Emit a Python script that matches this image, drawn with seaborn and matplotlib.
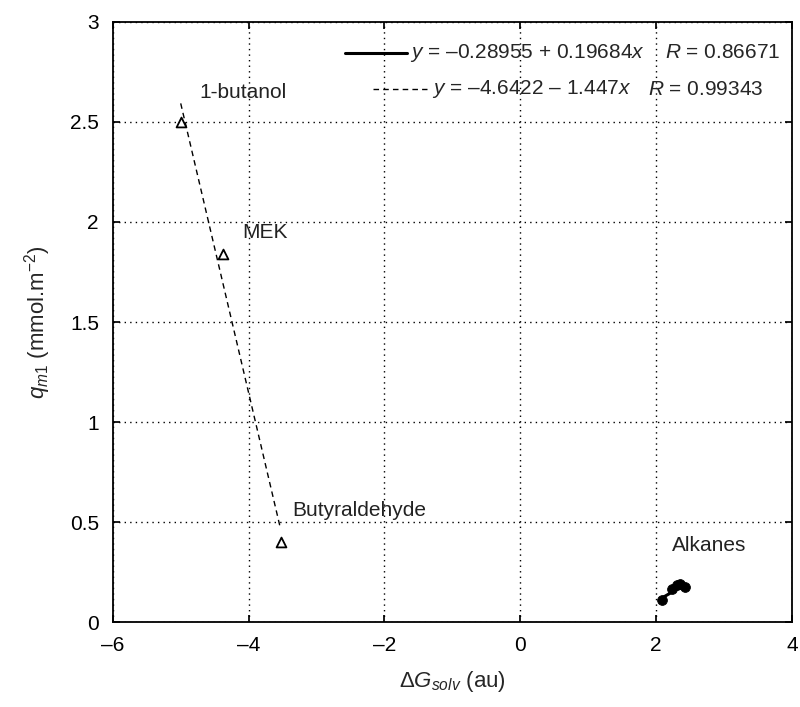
import numpy as np
import pandas as pd
import matplotlib
matplotlib.use("Agg")
import matplotlib.pyplot as plt
import seaborn as sns

# ---- data ----
polar_names = ["1-butanol", "MEK", "Butyraldehyde"]
polar_dg = [-5.0, -4.38, -3.53]
polar_qm = [2.50, 1.84, 0.40]

alkane_dg = [2.08, 2.23, 2.30, 2.35, 2.43]
alkane_qm = [0.11, 0.165, 0.185, 0.19, 0.175]

fit_alk = [-0.28955, 0.19684]   # intercept, slope
fit_pol = [-4.6422, -1.447]
r_alk = 0.86671
r_pol = 0.99343

label_names = ["1-butanol", "MEK", "Butyraldehyde", "Alkanes"]
label_x = [-4.72, -4.10, -3.36, 2.23]
label_y = [2.645, 1.95, 0.56, 0.385]

xticks = [-6, -4, -2, 0, 2, 4]
yticks = [0, 0.5, 1, 1.5, 2, 2.5, 3]

# ---- style ----
sns.set_theme(style="white")
plt.rcParams['font.family'] = ['Liberation Sans', 'DejaVu Sans']
plt.rcParams['mathtext.fontset'] = 'custom'
plt.rcParams['mathtext.rm'] = 'Liberation Sans'
plt.rcParams['mathtext.it'] = 'Liberation Sans:italic'
plt.rcParams['mathtext.bf'] = 'Liberation Sans:bold'
plt.rcParams['axes.unicode_minus'] = True

FS = 15
EN = "\u2013"

fig = plt.figure(figsize=(8.0, 7.07), dpi=100)
ax = fig.add_axes([0.141, 0.12, 0.849, 0.849])

pol = pd.DataFrame({"dg": polar_dg, "qm": polar_qm})
alk = pd.DataFrame({"dg": alkane_dg, "qm": alkane_qm})

# fitted lines
xp = np.array([min(polar_dg), max(polar_dg)])
yp = fit_pol[0] + fit_pol[1] * xp
xa = np.array([min(alkane_dg), max(alkane_dg)])
ya = fit_alk[0] + fit_alk[1] * xa
sns.lineplot(x=xp, y=yp, ax=ax, color="black", lw=1.0, linestyle=(0, (4, 3)))
sns.lineplot(x=xa, y=ya, ax=ax, color="black", lw=2.2)

sns.scatterplot(data=pol, x="dg", y="qm", ax=ax, marker="^", s=50,
                facecolor="white", edgecolor="black", linewidth=1.3, zorder=5)
sns.scatterplot(data=alk, x="dg", y="qm", ax=ax, marker="o", s=50,
                color="black", edgecolor="black", zorder=5)

for n, x, y in zip(label_names, label_x, label_y):
    ax.text(x, y, n, fontsize=FS, ha="left", va="center", color="#222222")

ax.set_xlim(-6, 4)
ax.set_ylim(0, 3)
ax.set_xticks(xticks)
ax.set_yticks(yticks)
ax.set_xticklabels([f"{t:g}".replace("-", EN) for t in xticks])
ax.set_yticklabels([f"{t:g}" for t in yticks])
ax.tick_params(axis="both", labelsize=FS, direction="in", length=5, pad=10,
               colors="black", top=True, right=True, bottom=True, left=True)
ax.grid(True, color="black", linestyle=(0, (1, 3)), linewidth=1.0)
for s in ax.spines.values():
    s.set_color("black")
    s.set_linewidth(1.3)

ax.set_xlabel(r"$\Delta G_{solv}$ (au)", fontsize=16, labelpad=10)
ax.set_ylabel(r"$q_{m1}$ (mmol.m$^{-2}$)", fontsize=16, labelpad=12)

# legend-like annotations
row1, row2 = 0.949, 0.888
ax.plot([0.342, 0.433], [row1, row1], transform=ax.transAxes, color="black", lw=2.2)
ax.text(0.437, row1, "$y$ = " + EN + "0.28955 + 0.19684$x$", transform=ax.transAxes,
        fontsize=FS, va="center", ha="left")
ax.text(0.983, row1, "$R$ = %.5f" % r_alk, transform=ax.transAxes,
        fontsize=FS, va="center", ha="right")
ax.plot([0.383, 0.462], [row2, row2], transform=ax.transAxes, color="black", lw=1.0,
        linestyle=(0, (4, 3)))
ax.text(0.47, row2, "$y$ = " + EN + "4.6422 " + EN + " 1.447$x$", transform=ax.transAxes,
        fontsize=FS, va="center", ha="left")
ax.text(0.958, row2, "$R$ = %.5f" % r_pol, transform=ax.transAxes,
        fontsize=FS, va="center", ha="right")

if ax.get_legend() is not None:
    ax.get_legend().remove()

fig.savefig("out.png", dpi=100)
